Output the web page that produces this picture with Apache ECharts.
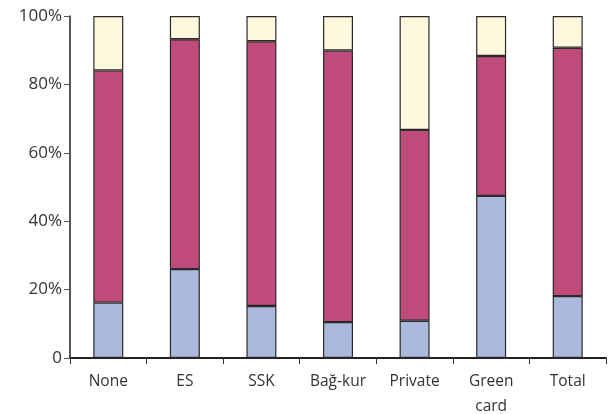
<!DOCTYPE html>
<html><head><meta charset="utf-8">
<script src="https://cdn.jsdelivr.net/npm/echarts@6/dist/echarts.min.js"></script>
<style>html,body{margin:0;padding:0;background:#fff}#c{width:608px;height:414px}</style>
</head><body><div id="c"></div>
<script>
const categories = ['None', 'ES', 'SSK', 'Bağ-kur', 'Private', 'Green\ncard', 'Total'];
const blueValues = [16.2, 26.0, 15.2, 10.5, 10.9, 47.4, 18.1];
const magentaValues = [67.9, 67.2, 77.4, 79.4, 55.8, 40.9, 72.6];
const yellowValues = [15.9, 6.8, 7.4, 10.1, 33.3, 11.7, 9.3];
const yTicks = [0, 20, 40, 60, 80, 100];

const chart = echarts.init(document.getElementById('c'));
const mk = (data, color) => ({
  type: 'bar', stack: 'a', data, barWidth: 30,
  itemStyle: { color, borderColor: '#2a2a2a', borderWidth: 1.2 },
  emphasis: { disabled: true }
});
chart.setOption({
  animation: false,
  grid: { left: 70, right: 2, top: 16, bottom: 56, containLabel: false, outerBoundsMode: 'none' },
  xAxis: {
    type: 'category', data: categories,
    axisLine: { lineStyle: { color: '#222', width: 1.8 } },
    axisTick: { show: true, length: 6, lineStyle: { color: '#333' } },
    axisLabel: { color: '#333', fontSize: 15.5, fontFamily: 'Open Sans', margin: 11, lineHeight: 25 }
  },
  yAxis: {
    type: 'value', min: 0, max: 100, interval: 20,
    axisLine: { show: true, lineStyle: { color: '#222', width: 1.5 } },
    axisTick: { show: true, length: 6, lineStyle: { color: '#555' } },
    splitLine: { show: false },
    axisLabel: { color: '#333', fontSize: 17, fontFamily: 'Open Sans', margin: 8,
      formatter: v => yTicks.includes(v) ? (v === 0 ? '0' : v + '%') : '' }
  },
  series: [
    mk(blueValues, '#aab9dc'),
    mk(magentaValues, '#bf4b7b'),
    mk(yellowValues, '#fdf7de')
  ]
});
</script></body></html>
